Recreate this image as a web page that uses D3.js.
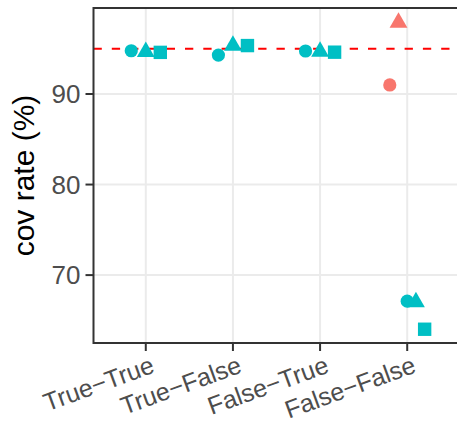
<!DOCTYPE html>
<html>
<head>
<meta charset="utf-8">
<script src="https://cdn.jsdelivr.net/npm/d3@7"></script>
<style>
  body { margin: 0; background: #fff; }
  text { font-family: "Liberation Sans", Arial, sans-serif; }
  .grid line { stroke: #EBEBEB; stroke-width: 2; }
  .tick-lab { fill: #4D4D4D; font-size: 26px; }
  .x-lab { font-size: 25px; }
</style>
</head>
<body>
<svg id="plot"></svg>
<script>
  var W = 457, H = 424;

  // categories on x
  var categories = ["True\u2212True", "True\u2212False", "False\u2212True", "False\u2212False"];
  var yTicks = [70, 80, 90];
  var target = 95;

  // one entry per point: category, colour group, shape, value
  var pointCat   = [0, 0, 0,   1, 1, 1,   2, 2, 2,   3, 3, 3, 3, 3];
  var pointGroup = ["b","b","b", "b","b","b", "b","b","b", "a","a","b","b","b"];
  var pointShape = ["circle","triangle","square", "circle","triangle","square",
                    "circle","triangle","square",
                    "circle","triangle","circle","triangle","square"];
  var pointValue = [94.78, 94.65, 94.6,  94.3, 95.35, 95.35,
                    94.75, 94.68, 94.62,
                    91.0, 97.9, 67.12, 67.03, 64.02];

  var groupColor = { a: "#F8766D", b: "#00BFC4" };

  var Panel = { left: 93.5, right: 459.5, top: 8, bottom: 343 };

  var svg = d3.select("#plot").attr("width", W).attr("height", H);

  var x = d3.scalePoint()
      .domain(d3.range(categories.length))
      .range([Panel.left, Panel.right])
      .padding(0.6);

  var y = d3.scaleLinear()
      .domain([62.5, 99.5])
      .range([Panel.bottom, Panel.top]);

  // gridlines
  var grid = svg.append("g").attr("class", "grid");
  grid.selectAll(".gy").data(yTicks).enter().append("line")
      .attr("x1", Panel.left).attr("x2", Panel.right)
      .attr("y1", d => y(d)).attr("y2", d => y(d));
  grid.selectAll(".gx").data(x.domain()).enter().append("line")
      .attr("x1", d => x(d)).attr("x2", d => x(d))
      .attr("y1", Panel.top).attr("y2", Panel.bottom);

  // reference line
  svg.append("line")
      .attr("x1", Panel.left).attr("x2", Panel.right)
      .attr("y1", y(target)).attr("y2", y(target))
      .attr("stroke", "#FF0000").attr("stroke-width", 2)
      .attr("stroke-dasharray", "8.3,10");

  // dodge inside each category
  var dodgeW = 0.5 * x.step();
  var pts = pointValue.map((v, i) => ({ c: pointCat[i], g: pointGroup[i], s: pointShape[i], v: v }));
  var byCat = d3.group(pts, d => d.c);
  byCat.forEach(function(arr) {
    var n = arr.length;
    arr.forEach(function(d, i) {
      d.dx = (i - (n - 1) / 2) * dodgeW / n;
    });
  });

  var rCircle = 6.6, sSquare = 13.4, rTri = 10.3;
  function shapePath(s) {
    if (s === "circle") return d3.symbol(d3.symbolCircle, Math.PI * rCircle * rCircle)();
    if (s === "square") return d3.symbol(d3.symbolSquare, sSquare * sSquare)();
    var h = rTri * Math.sqrt(3) / 2;
    return "M0," + (-rTri) + "L" + h + "," + (rTri / 2) + "L" + (-h) + "," + (rTri / 2) + "Z";
  }

  svg.append("g").selectAll("path").data(pts).enter().append("path")
      .attr("d", d => shapePath(d.s))
      .attr("fill", d => groupColor[d.g])
      .attr("transform", d => "translate(" + (x(d.c) + d.dx) + "," + y(d.v) + ")");

  // panel border
  svg.append("rect")
      .attr("x", Panel.left).attr("y", Panel.top)
      .attr("width", Panel.right - Panel.left).attr("height", Panel.bottom - Panel.top)
      .attr("fill", "none").attr("stroke", "#333333").attr("stroke-width", 2);

  // y axis ticks + labels
  var ya = svg.append("g");
  ya.selectAll("line").data(yTicks).enter().append("line")
      .attr("x1", Panel.left - 8).attr("x2", Panel.left)
      .attr("y1", d => y(d)).attr("y2", d => y(d))
      .attr("stroke", "#333333").attr("stroke-width", 2);
  ya.selectAll("text").data(yTicks).enter().append("text")
      .attr("class", "tick-lab")
      .attr("x", Panel.left - 13).attr("y", d => y(d))
      .attr("dy", "0.36em").attr("text-anchor", "end")
      .text(d => d);

  // x axis ticks + labels
  var xa = svg.append("g");
  xa.selectAll("line").data(x.domain()).enter().append("line")
      .attr("x1", d => x(d)).attr("x2", d => x(d))
      .attr("y1", Panel.bottom).attr("y2", Panel.bottom + 8)
      .attr("stroke", "#333333").attr("stroke-width", 2);
  xa.selectAll("text").data(x.domain()).enter().append("text")
      .attr("class", "tick-lab x-lab")
      .attr("text-anchor", "end")
      .attr("transform", d => "translate(" + (x(d) + 4) + "," + (Panel.bottom + 12) + ") rotate(-20)")
      .attr("dy", "0.72em")
      .text(d => categories[d]);

  // y title
  svg.append("text")
      .attr("transform", "translate(34," + ((Panel.top + Panel.bottom) / 2) + ") rotate(-90)")
      .attr("text-anchor", "middle")
      .attr("font-size", 30).attr("fill", "#000")
      .text("cov rate (%)");
</script>
</body>
</html>
